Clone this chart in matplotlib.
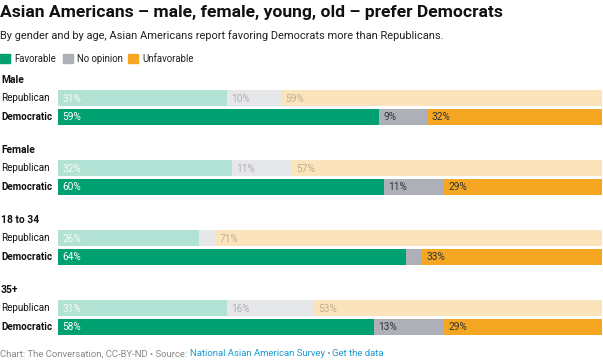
import matplotlib
matplotlib.use("Agg")
import matplotlib.pyplot as plt
import matplotlib.transforms as mtransforms
from matplotlib.patches import Rectangle

plt.rcParams['font.family'] = ['Roboto', 'DejaVu Sans']

groups = ['Male', 'Female', '18 to 34', '35+']
parties = ['Republican', 'Democratic']
responses = ['Favorable', 'No opinion', 'Unfavorable']

rep_favorable = [31, 32, 26, 31]
rep_no_opinion = [10, 11, 3, 16]
rep_unfavorable = [59, 57, 71, 53]
dem_favorable = [59, 60, 64, 58]
dem_no_opinion = [9, 11, 3, 13]
dem_unfavorable = [32, 29, 33, 29]

colors = ['#00a070', '#aeb0b8', '#f5a623']
text_colors = ['white', '#333333', '#333333']

W, H = 603, 362
fig = plt.figure(figsize=(W / 100, H / 100), dpi=100)


def fx(px):
    return px / W


def fy(py):
    return 1 - py / H


# title, subtitle
fig.text(fx(0), fy(12), 'Asian Americans \u2013 male, female, young, old \u2013 prefer Democrats',
         fontsize=12.6, fontweight='bold', color='#111111', va='center', ha='left')
fig.text(fx(0), fy(36), 'By gender and by age, Asian Americans report favoring Democrats more than Republicans.',
         fontsize=7.9, color='#222222', va='center', ha='left')

# legend
leg_x = [0, 63, 128]
for i, name in enumerate(responses):
    fig.patches.append(Rectangle((fx(leg_x[i]), fy(63)), fx(9.5), 9 / H,
                                 transform=fig.transFigure, color=colors[i]))
    fig.text(fx(leg_x[i] + 14), fy(58.5), name, fontsize=6.9, color='#222222',
             va='center', ha='left')

# bars
top, bottom = 70, 340
ax = fig.add_axes([fx(58), fy(bottom), fx(602 - 58), (bottom - top) / H])
ax.set_xlim(0, 100)
ax.set_ylim(bottom - top, 0)
ax.axis('off')

lab = mtransforms.blended_transform_factory(fig.transFigure, ax.transData)
rows = {'Republican': (rep_favorable, rep_no_opinion, rep_unfavorable),
        'Democratic': (dem_favorable, dem_no_opinion, dem_unfavorable)}

for g, grp in enumerate(groups):
    base = 70 * g
    ax.text(fx(1), base + 10, grp, transform=lab, fontsize=7.4, fontweight='bold',
            color='#111111', va='center', ha='left')
    for r, party in enumerate(parties):
        y = base + 28 + 19 * r
        alpha = 0.3 if party == 'Republican' else 1.0
        ax.text(fx(1), y, party, transform=lab, fontsize=7.1,
                fontweight='bold' if party == 'Democratic' else 'normal',
                color='#111111', va='center', ha='left')
        left = 0
        for k, vals in enumerate(rows[party]):
            v = vals[g]
            ax.barh(y, v, left=left, height=16, color=colors[k], alpha=alpha, linewidth=0)
            if v >= 5:
                tc = text_colors[k]
                ax.text(left + 0.75, y + 0.5, f'{v}%', fontsize=7.3, color=tc,
                        alpha=(1.0 if party == 'Democratic' else (0.9 if k == 0 else 0.3)),
                        va='center', ha='left')
            left += v

# footer
x0 = fx(0)
fs = 6.8
t1 = fig.text(x0, fy(354), 'Chart: The Conversation, CC-BY-ND \u2022 Source: ', fontsize=fs,
              color='#888888', va='center', ha='left')
fig.canvas.draw()
bb = t1.get_window_extent()
t2 = fig.text(bb.x1 / W, fy(354), 'National Asian American Survey', fontsize=fs,
              color='#1a9bd7', va='center', ha='left')
bb = t2.get_window_extent()
t3 = fig.text(bb.x1 / W, fy(354), ' \u2022 ', fontsize=fs, color='#888888', va='center', ha='left')
bb = t3.get_window_extent()
fig.text(bb.x1 / W, fy(354), 'Get the data', fontsize=fs, color='#1a9bd7', va='center', ha='left')

fig.savefig('out.png', dpi=100)
